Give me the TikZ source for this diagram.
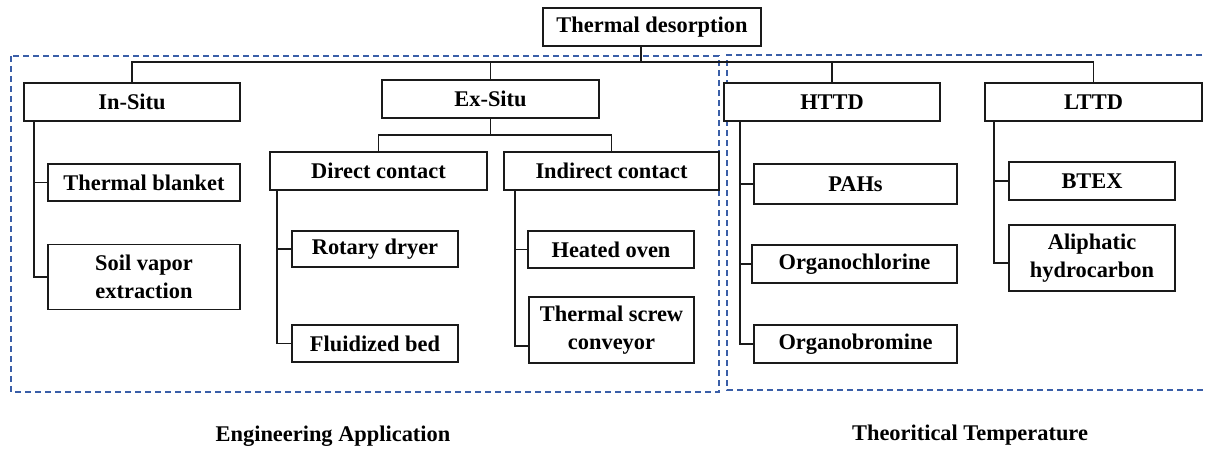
\documentclass[tikz,border=0pt]{standalone}
\usepackage{fontspec}
\setmainfont{Liberation Serif}
\usetikzlibrary{positioning}
\definecolor{ink}{HTML}{1A1A1A}
\definecolor{frame}{HTML}{3A5EA8}
\tikzset{
  every node/.style={font=\fontsize{22.4}{28}\selectfont\bfseries,text=black},
  box/.style={draw=ink,line width=1.5pt,fill=white,align=center,inner sep=2pt,minimum height=38pt},
  twobox/.style={box,minimum height=65pt},
  link/.style={draw=ink,line width=1.6pt},
  group/.style={draw=frame,line width=1.1pt,dash pattern=on 6pt off 4pt},
  caption/.style={inner sep=0pt},
}
\begin{document}
\begin{tikzpicture}[x=1pt,y=-1pt]
  \useasboundingbox[fill=white] (0,0) rectangle (1206,450);
  % dashed groups
  \draw[group] (11,56) rectangle (719,392);
  \draw[group] (1212,55) -- (727,55) -- (727,390) -- (1212,390);
  % boxes
  \node[box,minimum width=218pt] (root) at (652,27) {Thermal desorption};
  \node[box,minimum width=216pt] (insitu) at (132,102) {In-Situ};
  \node[box,minimum width=217pt] (exsitu) at (490.5,99) {Ex-Situ};
  \node[box,minimum width=217pt] (direct) at (378.5,171) {Direct contact};
  \node[box,minimum width=215pt] (indirect) at (611.5,171) {Indirect contact};
  \node[box,minimum width=192pt,minimum height=37pt] (blanket) at (144,182.5) {Thermal blanket};
  \node[twobox,minimum width=192pt] (sve) at (144,277) {Soil vapor\\extraction};
  \node[box,minimum width=166pt,minimum height=36pt] (rotary) at (375,249) {Rotary dryer};
  \node[box,minimum width=166pt,minimum height=37pt] (fluid) at (375,343.5) {Fluidized bed};
  \node[box,minimum width=166pt,minimum height=37pt] (oven) at (611,249.5) {Heated oven};
  \node[twobox,minimum width=165pt,minimum height=66pt] (screw) at (611.5,330) {Thermal screw\\conveyor};
  \node[box,minimum width=216pt] (httd) at (832,102) {HTTD};
  \node[box,minimum width=217pt] (lttd) at (1093.5,102) {LTTD};
  \node[box,minimum width=203pt,minimum height=40pt] (pahs) at (855.5,184) {PAHs};
  \node[box,minimum width=205pt] (chlor) at (854.5,264) {Organochlorine};
  \node[box,minimum width=203pt] (brom) at (855.5,344) {Organobromine};
  \node[box,minimum width=166pt] (btex) at (1092,181) {BTEX};
  \node[twobox,minimum width=166pt,minimum height=66pt] (aliph) at (1092,258) {Aliphatic\\hydrocarbon};
  % tree links
  \coordinate (bus) at (641,62);
  \coordinate (exbus) at (490.5,135);
  \draw[link] (root.south -| bus) -- (bus);
  \draw[link] (insitu.north) |- (bus) -| (lttd.north);
  \draw[link] (exsitu.north) -- (exsitu.north |- bus);
  \draw[link] (httd.north) -- (httd.north |- bus);
  \draw[link] (exsitu.south) -- (exbus);
  \draw[link] (direct.north) |- (exbus) -| (indirect.north);
  \draw[link] ([xshift=11pt]insitu.south west) |- (blanket.west);
  \draw[link] ([xshift=11pt]insitu.south west) |- (sve.west);
  \draw[link] ([xshift=8pt]direct.south west) |- (rotary.west);
  \draw[link] ([xshift=8pt]direct.south west) |- (fluid.west);
  \draw[link] ([xshift=12pt]indirect.south west) |- (oven.west);
  \draw[link] ([xshift=12pt]indirect.south west) |- ([yshift=-16pt]screw.west);
  \draw[link] ([xshift=17pt]httd.south west) |- (pahs.west);
  \draw[link] ([xshift=17pt]httd.south west) |- (chlor.west);
  \draw[link] ([xshift=17pt]httd.south west) |- (brom.west);
  \draw[link] ([xshift=10pt]lttd.south west) |- (btex.west);
  \draw[link] ([xshift=10pt]lttd.south west) |- ([yshift=-5pt]aliph.west);
  % captions
  \node[caption] (eng) at (333,436) {Engineering Application};
  \node[caption] (theo) at (970,435) {Theoritical Temperature};
\end{tikzpicture}
\end{document}
